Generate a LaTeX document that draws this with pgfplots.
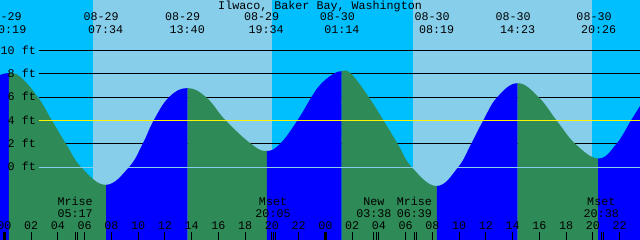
\documentclass[border=0pt]{standalone}
\usepackage{pgfplots}
\pgfplotsset{compat=1.18}
\usepgfplotslibrary{fillbetween}
\usepackage{fontspec}
\setmonofont{Liberation Mono}
\newcommand\tf{\ttfamily\fontsize{11.7}{12}\selectfont}
\definecolor{night}{HTML}{00BFFF}
\definecolor{day}{HTML}{87CEEB}
\definecolor{flood}{HTML}{0000FF}
\definecolor{ebb}{HTML}{2E8B57}
\begin{document}
\begin{tikzpicture}
\begin{axis}[
  at={(0,0)}, anchor=south west,
  scale only axis, width=640pt, height=240pt,
  xmin=-0.3366, xmax=47.53, ymin=-6.224, ymax=14.324,
  set layers=axis on top,
  axis x line=bottom, axis y line=none,
  x axis line style={draw=none,-},
  ytick=\empty,
  xtick={2,4,6,8,10,12,14,16,18,20,22,26,28,30,32,34,36,38,40,42,44,46},
  xticklabels={02,04,06,08,10,12,14,16,18,20,22,02,04,06,08,10,12,14,16,18,20,22},
  extra x ticks={0,24},
  extra x tick labels={00,00},
  extra x tick style={tick style={line width=2.5pt}},
  tick align=inside,
  major tick length=8pt,
  tick style={black, line width=1pt},
  xticklabel style={font=\tf, anchor=base, yshift=10.7pt, inner sep=0pt},
]
% backgrounds
\addplot[on layer=axis background, fill=night, draw=none] coordinates {(-1,-7) (-1,15) (49,15) (49,-7)};
\addplot[on layer=axis background, fill=day, draw=none] coordinates {(6.6,-7) (6.6,15) (20.0,15) (20.0,-7)};
\addplot[on layer=axis background, fill=day, draw=none] coordinates {(30.53,-7) (30.53,15) (43.92,15) (43.92,-7)};
% reference lines behind tide
\addplot[on layer=axis background, black, line width=1pt] coordinates {(2.58,10) (49,10)};
\addplot[on layer=axis background, black, line width=1pt] coordinates {(2.58,8) (49,8)};
\addplot[on layer=axis background, black, line width=1pt] coordinates {(2.58,6) (49,6)};
\addplot[on layer=axis background, black, line width=1pt] coordinates {(2.58,2) (49,2)};
% tide
\addplot[name path=tide, draw=none, smooth, tension=0.7] coordinates {
(-0.337,7.9) (0.317,8.06) (1.16,7.76) (2.5,6) (3.55,4) (4.6,2) (5.75,0)
(7.567,-1.5) (9.3,0) (10.33,2) (11.15,4) (12.3,6) (13.667,6.78)
(15.08,6) (16.55,4) (18.45,2) (19.567,1.4) (20.6,2) (21.9,4) (22.95,6)
(23.6,7.05) (24.5,7.92) (25.233,8.24) (25.93,8) (27.25,6) (28.35,4) (29.41,2)
(30.47,0) (32.317,-1.6) (33.92,0) (34.9,2) (35.8,4) (36.85,6) (38.383,7.2)
(39.95,6) (41.3,4) (42.7,2) (44.433,0.76) (45.76,2) (46.85,4) (47.53,5.25)
};
\addplot[name path=bot, draw=none] coordinates {(-1,-7) (49,-7)};
\addplot[flood] fill between[of=tide and bot, soft clip={domain=-1:0.33}];
\addplot[ebb] fill between[of=tide and bot, soft clip={domain=0.33:7.6}];
\addplot[flood] fill between[of=tide and bot, soft clip={domain=7.6:13.7}];
\addplot[ebb] fill between[of=tide and bot, soft clip={domain=13.7:19.62}];
\addplot[flood] fill between[of=tide and bot, soft clip={domain=19.62:25.22}];
\addplot[ebb] fill between[of=tide and bot, soft clip={domain=25.22:32.33}];
\addplot[flood] fill between[of=tide and bot, soft clip={domain=32.33:38.38}];
\addplot[ebb] fill between[of=tide and bot, soft clip={domain=38.38:44.4}];
\addplot[flood] fill between[of=tide and bot, soft clip={domain=44.4:49}];
% lines on top
\addplot[yellow, line width=1.6pt] coordinates {(2.58,4) (49,4)};
\addplot[day, line width=1pt] coordinates {(2.58,0) (49,0)};
% moon event ticks
\addplot[black, line width=1pt] coordinates {(5.283,-7) (5.283,-5.54)};
\addplot[black, line width=1pt] coordinates {(5.45,-7) (5.45,-5.54)};
\addplot[black, line width=1pt] coordinates {(20.083,-7) (20.083,-5.54)};
\addplot[black, line width=1pt] coordinates {(20.25,-7) (20.25,-5.54)};
\addplot[black, line width=1pt] coordinates {(27.633,-7) (27.633,-5.54)};
\addplot[black, line width=1pt] coordinates {(27.8,-7) (27.8,-5.54)};
\addplot[black, line width=1pt] coordinates {(30.65,-7) (30.65,-5.54)};
\addplot[black, line width=1pt] coordinates {(30.82,-7) (30.82,-5.54)};
\addplot[black, line width=1pt] coordinates {(44.633,-7) (44.633,-5.54)};
\addplot[black, line width=1pt] coordinates {(44.8,-7) (44.8,-5.54)};
% y labels
\begin{scope}[every node/.style={font=\tf, anchor=base east, inner sep=0pt}]
\node at (axis cs:2.356,9.7) {10 ft};
\node at (axis cs:2.356,7.7) {8 ft};
\node at (axis cs:2.356,5.7) {6 ft};
\node at (axis cs:2.356,3.7) {4 ft};
\node at (axis cs:2.356,1.7) {2 ft};
\node at (axis cs:2.356,-0.3) {0 ft};
\end{scope}
% title and tide event labels
\begin{scope}[every node/.style={font=\tf, anchor=base, inner sep=0pt}]
\node at (axis cs:23.6,13.51) {Ilwaco, Baker Bay, Washington};
\node at (axis cs:-0.023,12.53) {08-29}; \node at (axis cs:0.317,11.47) {00:19};
\node at (axis cs:7.227,12.53) {08-29}; \node at (axis cs:7.567,11.47) {07:34};
\node at (axis cs:13.327,12.53) {08-29}; \node at (axis cs:13.667,11.47) {13:40};
\node at (axis cs:19.227,12.53) {08-29}; \node at (axis cs:19.567,11.47) {19:34};
\node at (axis cs:24.893,12.53) {08-30}; \node at (axis cs:25.233,11.47) {01:14};
\node at (axis cs:31.977,12.53) {08-30}; \node at (axis cs:32.317,11.47) {08:19};
\node at (axis cs:38.043,12.53) {08-30}; \node at (axis cs:38.383,11.47) {14:23};
\node at (axis cs:44.093,12.53) {08-30}; \node at (axis cs:44.433,11.47) {20:26};
% moon labels
\node at (axis cs:5.283,-3.31) {Mrise}; \node at (axis cs:5.283,-4.28) {05:17};
\node at (axis cs:20.083,-3.31) {Mset}; \node at (axis cs:20.083,-4.28) {20:05};
\node at (axis cs:27.633,-3.31) {New}; \node at (axis cs:27.633,-4.28) {03:38};
\node at (axis cs:30.65,-3.31) {Mrise}; \node at (axis cs:30.65,-4.28) {06:39};
\node at (axis cs:44.633,-3.31) {Mset}; \node at (axis cs:44.633,-4.28) {20:38};
\end{scope}
\end{axis}
\pgfresetboundingbox
\path[use as bounding box] (0,0) rectangle (640pt,240pt);
\end{tikzpicture}
\end{document}
